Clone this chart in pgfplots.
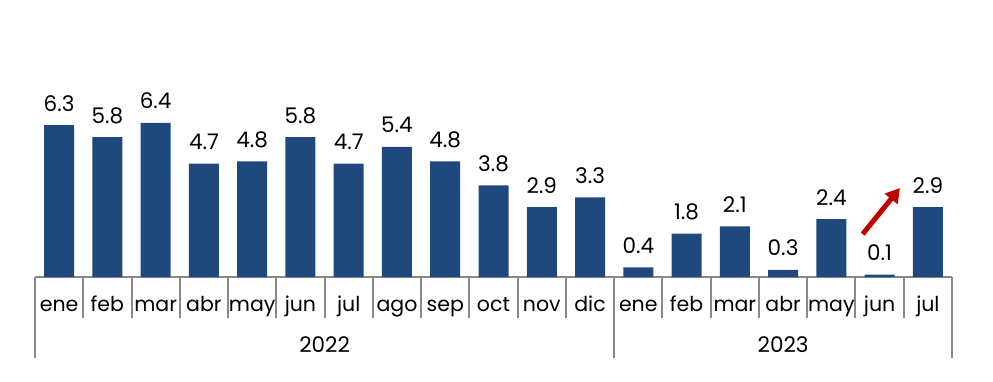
\documentclass[border=0pt]{standalone}
\usepackage{pgfplots}
\pgfplotsset{compat=1.18}
\usepackage{fontspec}
\setmainfont{Poppins}
\usetikzlibrary{arrows.meta}
\definecolor{barblue}{RGB}{31,73,125}
\definecolor{arrred}{RGB}{192,0,0}
\definecolor{sepgray}{RGB}{137,137,137}
\begin{document}
\begin{tikzpicture}
\useasboundingbox (0,0) rectangle (993bp,382bp);
\begin{axis}[
  at={(35bp,105bp)}, anchor=south west,
  scale only axis, width=917bp, height=241bp,
  xmin=-0.5, xmax=18.5, ymin=0, ymax=10,
  axis x line*=bottom, hide y axis,
  x axis line style={sepgray, line width=2bp, -},
  ybar, bar width=30bp,
  xtick={0,...,18},
  xticklabels={ene,feb,mar,abr,may,jun,jul,ago,sep,oct,nov,dic,ene,feb,mar,abr,may,jun,jul},
  major tick length=0pt,
  minor xtick={-0.5,0.5,1.5,2.5,3.5,4.5,5.5,6.5,7.5,8.5,9.5,10.5,11.5,12.5,13.5,14.5,15.5,16.5,17.5,18.5},
  minor tick length=41bp, tick align=outside,
  tick style={sepgray, line width=2bp},
  extra x ticks={-0.5,11.5,18.5}, extra x tick labels={},
  extra x tick style={major tick length=81bp, tick style={sepgray, line width=2bp}},
  xticklabel style={anchor=base, yshift=-34bp, font=\fontsize{20.5bp}{24bp}\selectfont},
  point meta=y,
  nodes near coords={\pgfmathprintnumber[fixed,fixed zerofill,precision=1,assume math mode=true]{\pgfplotspointmeta}},
  every node near coord/.append style={anchor=base, yshift=14bp, text=black, font=\fontsize{21.5bp}{24bp}\selectfont},
  clip=false,
]
\addplot[fill=barblue, draw=none] coordinates {
  (0,6.3) (1,5.8) (2,6.4) (3,4.7) (4,4.8) (5,5.8) (6,4.7) (7,5.4) (8,4.8) (9,3.8) (10,2.9) (11,3.3)
  (12,0.4) (13,1.8) (14,2.1) (15,0.3) (16,2.4) (17,0.1) (18,2.9)};
\node[anchor=base, yshift=-75bp, font=\fontsize{21.5bp}{24bp}\selectfont] at (axis cs:5.5,0) {2022};
\node[anchor=base, yshift=-75bp, font=\fontsize{21.5bp}{24bp}\selectfont] at (axis cs:15,0) {2023};
\draw[arrred, line width=5bp, -{Triangle[width=16bp,length=14bp]}] (axis cs:16.65,1.78) -- (axis cs:17.42,3.69);
\end{axis}
\end{tikzpicture}
\end{document}
